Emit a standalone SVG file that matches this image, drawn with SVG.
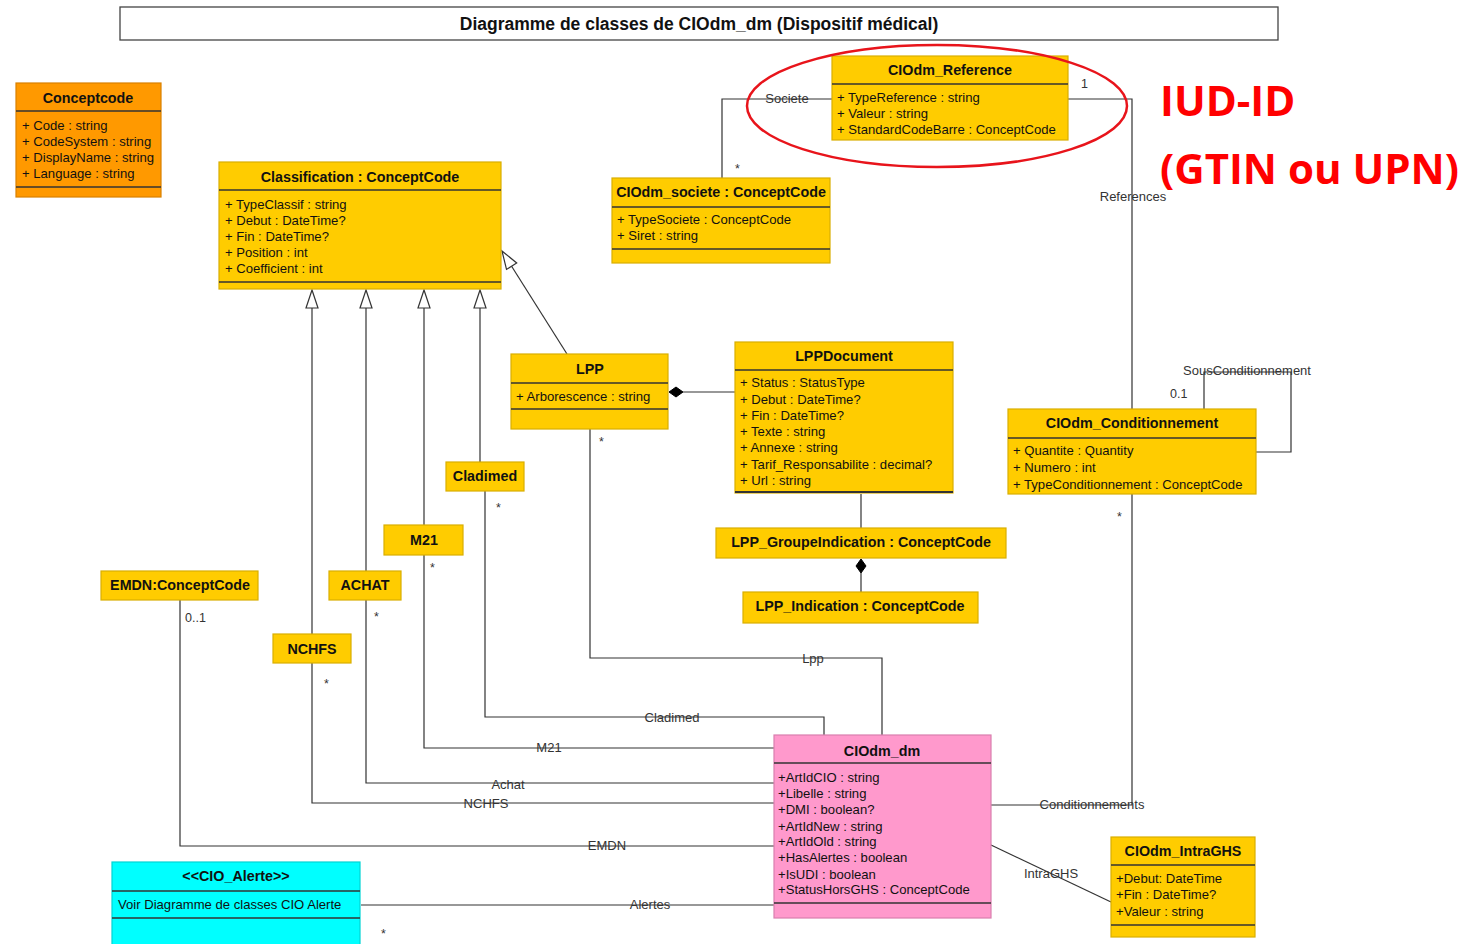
<svg xmlns="http://www.w3.org/2000/svg" width="1483" height="944" viewBox="0 0 1483 944">
<style>
text{font-family:"Liberation Sans",Arial,sans-serif;fill:#111}
.t{font-size:14.3px;font-weight:bold;text-anchor:middle}
.a{font-size:13.1px}
.y{fill:#FFCC00;stroke:#D9AE00;stroke-width:1.2}
.o{fill:#FF9900;stroke:#D98000;stroke-width:1.2}
.p{fill:#FF99CC;stroke:#D97FAE;stroke-width:1.2}
.c{fill:#00FFFF;stroke:#00D4D4;stroke-width:1.2}
.s{stroke:#333;stroke-width:1.5}
.l{fill:none;stroke:#333;stroke-width:1.2}
.lb{font-size:13px;fill:#333;text-anchor:middle}
.m{font-size:12.5px;fill:#333}
.tri{fill:#fff;stroke:#333;stroke-width:1.2}
.dia{fill:#000;stroke:#000}
</style>
<rect width="1483" height="944" fill="#fff"/>
<g id="title">
<rect x="120" y="7" width="1158" height="33" fill="#fff" stroke="#444" stroke-width="1.3"/>
<text x="699" y="30" style="font-size:17.5px;font-weight:bold;text-anchor:middle">Diagramme de classes de CIOdm_dm (Dispositif médical)</text>
</g>
<g id="connectors">
<polyline class="l" points="312,308 312,634"/>
<polyline class="l" points="366,308 366,571"/>
<polyline class="l" points="424,308 424,525"/>
<polyline class="l" points="480,308 480,462"/>
<polygon class="tri" points="312,290 306,308 318,308"/>
<polygon class="tri" points="366,290 360,308 372,308"/>
<polygon class="tri" points="424,290 418,308 430,308"/>
<polygon class="tri" points="480,290 474,308 486,308"/>
<line class="l" x1="567" y1="354" x2="511.6" y2="266.2"/>
<polygon class="tri" points="502,251 516.7,263 506.5,269.4"/>
<polyline class="l" points="832,99 722,99 722,178"/>
<polyline class="l" points="1068,99 1132,99 1132,409"/>
<polyline class="l" points="1132,494 1132,805 991,805"/>
<polyline class="l" points="1204,409 1204,372 1291,372 1291,452 1256,452"/>
<line class="l" x1="683" y1="392" x2="735" y2="392"/>
<polygon class="dia" points="669,392 676,387 683,392 676,397"/>
<line class="l" x1="861" y1="494" x2="861" y2="528"/>
<line class="l" x1="861" y1="573" x2="861" y2="592"/>
<polygon class="dia" points="861,559 866,566 861,573 856,566"/>
<polyline class="l" points="590,429 590,658 882,658 882,735"/>
<polyline class="l" points="485,491 485,717 824,717 824,735"/>
<polyline class="l" points="424,555 424,748 774,748"/>
<polyline class="l" points="366,600 366,783 774,783"/>
<polyline class="l" points="312,663 312,803 774,803"/>
<polyline class="l" points="180,600 180,846 774,846"/>
<line class="l" x1="361" y1="905" x2="774" y2="905"/>
<line class="l" x1="991" y1="845" x2="1111" y2="902"/>
<text class="lb" x="787" y="103">Societe</text>
<text class="m" x="735" y="173">*</text>
<text class="m" x="1081" y="88">1</text>
<text class="lb" x="1133" y="201">References</text>
<text class="lb" x="1247" y="375">SousConditionnement</text>
<text class="m" x="1170" y="398">0.1</text>
<text class="m" x="1117" y="521">*</text>
<text class="lb" x="1092" y="809">Conditionnements</text>
<text class="lb" x="1051" y="878">IntraGHS</text>
<text class="m" x="599" y="446">*</text>
<text class="lb" x="813" y="663">Lpp</text>
<text class="m" x="496" y="512">*</text>
<text class="lb" x="672" y="722">Cladimed</text>
<text class="m" x="430" y="572">*</text>
<text class="lb" x="549" y="752">M21</text>
<text class="m" x="374" y="621">*</text>
<text class="lb" x="508" y="789">Achat</text>
<text class="m" x="324" y="688">*</text>
<text class="lb" x="486" y="808">NCHFS</text>
<text class="m" x="185" y="622">0..1</text>
<text class="lb" x="607" y="850">EMDN</text>
<text class="lb" x="650" y="909">Alertes</text>
<text class="m" x="381" y="938">*</text>
</g>
<g id="Conceptcode">
<rect class="o" x="16" y="83" width="145" height="114"/>
<line class="s" x1="16" y1="111" x2="161" y2="111"/>
<line class="s" x1="16" y1="187" x2="161" y2="187"/>
<text class="t" x="88" y="103">Conceptcode</text>
<text class="a" x="22" y="130">+ Code : string</text>
<text class="a" x="22" y="146">+ CodeSystem : string</text>
<text class="a" x="22" y="162">+ DisplayName : string</text>
<text class="a" x="22" y="178">+ Language : string</text>
</g>
<g id="Classification">
<rect class="y" x="219" y="162" width="282" height="127"/>
<line class="s" x1="219" y1="190" x2="501" y2="190"/>
<line class="s" x1="219" y1="282" x2="501" y2="282"/>
<text class="t" x="360" y="182">Classification : ConceptCode</text>
<text class="a" x="225" y="209">+ TypeClassif : string</text>
<text class="a" x="225" y="225">+ Debut : DateTime?</text>
<text class="a" x="225" y="241">+ Fin : DateTime?</text>
<text class="a" x="225" y="257">+ Position : int</text>
<text class="a" x="225" y="273">+ Coefficient : int</text>
</g>
<g id="CIOdm_Reference">
<rect class="y" x="832" y="56" width="236" height="84"/>
<line class="s" x1="832" y1="84" x2="1068" y2="84"/>
<text class="t" x="950" y="75">CIOdm_Reference</text>
<text class="a" x="837" y="102">+ TypeReference : string</text>
<text class="a" x="837" y="118">+ Valeur : string</text>
<text class="a" x="837" y="134">+ StandardCodeBarre : ConceptCode</text>
</g>
<g id="CIOdm_societe">
<rect class="y" x="612" y="178" width="218" height="85"/>
<line class="s" x1="612" y1="207" x2="830" y2="207"/>
<line class="s" x1="612" y1="249" x2="830" y2="249"/>
<text class="t" x="721" y="197">CIOdm_societe : ConceptCode</text>
<text class="a" x="617" y="224">+ TypeSociete : ConceptCode</text>
<text class="a" x="617" y="240">+ Siret : string</text>
</g>
<g id="LPP">
<rect class="y" x="511" y="354" width="157" height="75"/>
<line class="s" x1="511" y1="383" x2="668" y2="383"/>
<line class="s" x1="511" y1="409" x2="668" y2="409"/>
<text class="t" x="590" y="374">LPP</text>
<text class="a" x="516" y="401">+ Arborescence : string</text>
</g>
<g id="LPPDocument">
<rect class="y" x="735" y="342" width="218" height="151"/>
<line class="s" x1="735" y1="370" x2="953" y2="370"/>
<line x1="735" y1="492" x2="953" y2="492" stroke="#333" stroke-width="2"/>
<text class="t" x="844" y="361">LPPDocument</text>
<text class="a" x="740" y="387">+ Status : StatusType</text>
<text class="a" x="740" y="404">+ Debut : DateTime?</text>
<text class="a" x="740" y="420">+ Fin : DateTime?</text>
<text class="a" x="740" y="436">+ Texte : string</text>
<text class="a" x="740" y="452">+ Annexe : string</text>
<text class="a" x="740" y="469">+ Tarif_Responsabilite : decimal?</text>
<text class="a" x="740" y="485">+ Url : string</text>
</g>
<g id="LPP_GroupeIndication">
<rect class="y" x="716" y="528" width="290" height="30"/>
<text class="t" x="861" y="547">LPP_GroupeIndication  : ConceptCode</text>
</g>
<g id="LPP_Indication">
<rect class="y" x="743" y="592" width="235" height="31"/>
<text class="t" x="860" y="611">LPP_Indication : ConceptCode</text>
</g>
<g id="CIOdm_Conditionnement">
<rect class="y" x="1008" y="409" width="248" height="85"/>
<line class="s" x1="1008" y1="438" x2="1256" y2="438"/>
<text class="t" x="1132" y="428">CIOdm_Conditionnement</text>
<text class="a" x="1013" y="455">+ Quantite : Quantity</text>
<text class="a" x="1013" y="472">+ Numero : int</text>
<text class="a" x="1013" y="489">+ TypeConditionnement : ConceptCode</text>
</g>
<g id="Cladimed">
<rect class="y" x="446" y="462" width="78" height="29"/>
<text class="t" x="485" y="481">Cladimed</text>
</g>
<g id="M21">
<rect class="y" x="384" y="525" width="79" height="30"/>
<text class="t" x="424" y="545">M21</text>
</g>
<g id="ACHAT">
<rect class="y" x="329" y="571" width="72" height="29"/>
<text class="t" x="365" y="590">ACHAT</text>
</g>
<g id="NCHFS">
<rect class="y" x="273" y="634" width="78" height="29"/>
<text class="t" x="312" y="654">NCHFS</text>
</g>
<g id="EMDN">
<rect class="y" x="101" y="571" width="157" height="29"/>
<text class="t" x="180" y="590">EMDN:ConceptCode</text>
</g>
<g id="CIOdm_dm">
<rect class="p" x="774" y="735" width="217" height="183"/>
<line class="s" x1="774" y1="763" x2="991" y2="763"/>
<line class="s" x1="774" y1="903" x2="991" y2="903"/>
<text class="t" x="882" y="756">CIOdm_dm</text>
<text class="a" x="778" y="782">+ArtIdCIO : string</text>
<text class="a" x="778" y="798">+Libelle : string</text>
<text class="a" x="778" y="814">+DMI : boolean?</text>
<text class="a" x="778" y="831">+ArtIdNew : string</text>
<text class="a" x="778" y="846">+ArtIdOld : string</text>
<text class="a" x="778" y="862">+HasAlertes : boolean</text>
<text class="a" x="778" y="879">+IsUDI : boolean</text>
<text class="a" x="778" y="894">+StatusHorsGHS : ConceptCode</text>
</g>
<g id="CIOdm_IntraGHS">
<rect class="y" x="1111" y="837" width="144" height="100"/>
<line class="s" x1="1111" y1="865" x2="1255" y2="865"/>
<line class="s" x1="1111" y1="925" x2="1255" y2="925"/>
<text class="t" x="1183" y="856">CIOdm_IntraGHS</text>
<text class="a" x="1116" y="883">+Debut: DateTime</text>
<text class="a" x="1116" y="899">+Fin : DateTime?</text>
<text class="a" x="1116" y="916">+Valeur : string</text>
</g>
<g id="CIO_Alerte">
<rect class="c" x="112" y="862" width="248" height="90"/>
<line class="s" x1="112" y1="891" x2="360" y2="891"/>
<line class="s" x1="112" y1="918" x2="360" y2="918"/>
<text class="t" x="236" y="881">&lt;&lt;CIO_Alerte&gt;&gt;</text>
<text class="a" x="118" y="909">Voir Diagramme de classes CIO Alerte</text>
</g>
<g id="annotation">
<ellipse cx="937" cy="106" rx="190" ry="61" fill="none" stroke="#E8141B" stroke-width="2.5"/>
<text x="1160" y="116" style="font-family:'Open Sans','Noto Sans',sans-serif;font-size:42px;font-weight:bold;fill:#FF0000">IUD-ID</text>
<text x="1160" y="184" style="font-family:'Open Sans','Noto Sans',sans-serif;font-size:42px;font-weight:bold;fill:#FF0000">(GTIN ou UPN)</text>
</g>
</svg>
